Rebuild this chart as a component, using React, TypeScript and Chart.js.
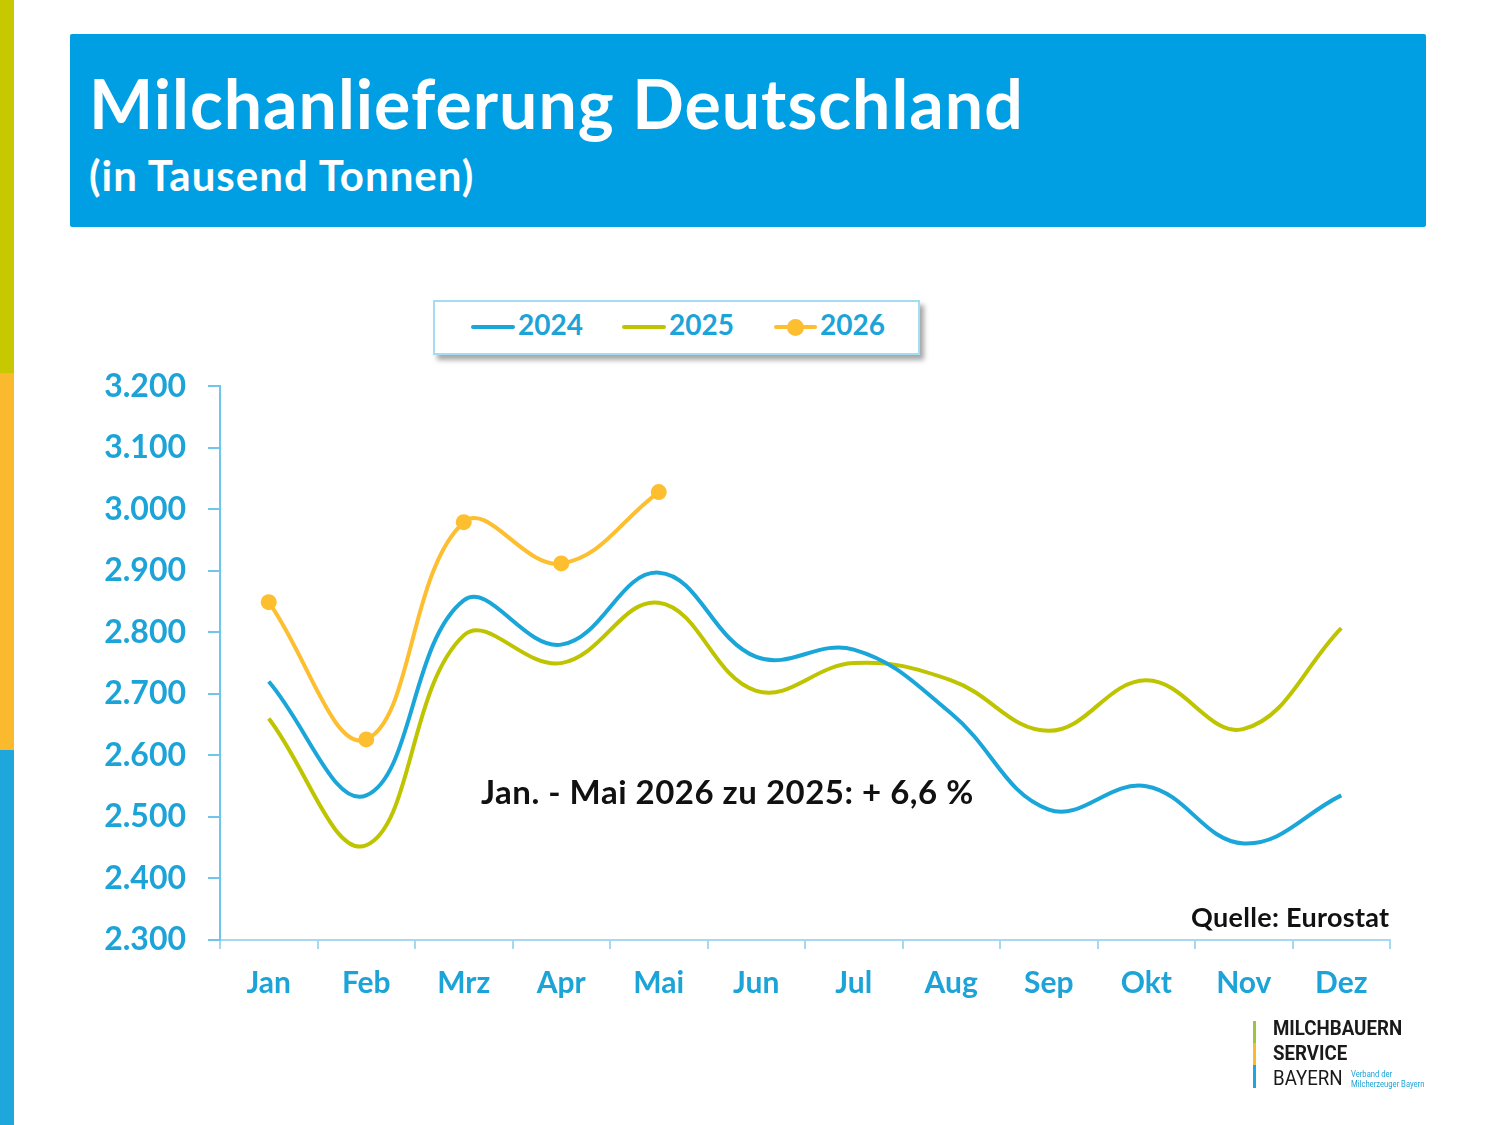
import React, { useEffect, useRef } from 'react';
import { Chart, registerables } from 'chart.js';

Chart.register(...registerables);

// ---- data ----
const months = ['Jan', 'Feb', 'Mrz', 'Apr', 'Mai', 'Jun', 'Jul', 'Aug', 'Sep', 'Okt', 'Nov', 'Dez'];
const series2024 = [2720, 2535, 2852, 2780, 2897, 2760, 2772, 2668, 2512, 2550, 2457, 2535];
const series2025 = [2660, 2454, 2795, 2750, 2848, 2705, 2750, 2722, 2640, 2722, 2643, 2807];
const series2026 = [2849, 2626, 2979, 2912, 3028];
const seriesNames = ['2024', '2025', '2026'];
const yMin = 2300;
const yMax = 3200;
const yStep = 100;

const TEXT_BLUE = '#1CA3D7';
const C2024 = '#1BA6DA';
const C2025 = '#BEC400';
const C2026 = '#FDBE30';
const FONT = 'Lato, "Open Sans", sans-serif';

function fmt(v: number): string {
  return String(Math.round(v)).replace(/\B(?=(\d{3})+(?!\d))/g, '.');
}

function T(props: { x: number; baseline: number; size: number; color: string; weight?: any; family?: string; children: any; style?: any }) {
  const { x, baseline, size, color, weight = 'bold', family = FONT, children, style } = props;
  return (
    <div
      style={{
        position: 'absolute',
        left: x,
        top: baseline - 0.987 * size,
        fontFamily: family,
        fontSize: size,
        lineHeight: 1.2,
        fontWeight: weight,
        color,
        whiteSpace: 'nowrap',
        ...style,
      }}
    >
      {children}
    </div>
  );
}

export default function App() {
  const ref = useRef<HTMLCanvasElement>(null);

  useEffect(() => {
    if (!ref.current) return;
    const chart = new Chart(ref.current, {
      type: 'line',
      data: {
        labels: months,
        datasets: [
          {
            label: seriesNames[0],
            data: series2024,
            borderColor: C2024,
            borderWidth: 4,
            pointRadius: 0,
            tension: 0.4,
            fill: false,
          },
          {
            label: seriesNames[1],
            data: series2025,
            borderColor: C2025,
            borderWidth: 4,
            pointRadius: 0,
            tension: 0.4,
            fill: false,
          },
          {
            label: seriesNames[2],
            data: series2026,
            borderColor: C2026,
            backgroundColor: C2026,
            pointBackgroundColor: C2026,
            pointBorderWidth: 0,
            borderWidth: 4,
            pointRadius: 8,
            tension: 0.4,
            fill: false,
          },
        ],
      },
      options: {
        animation: false,
        responsive: false,
        events: [],
        layout: { padding: { top: 10, right: 20, left: 0, bottom: 0 } },
        plugins: {
          legend: { display: false },
          tooltip: { enabled: false },
          title: { display: false },
        },
        scales: {
          x: {
            offset: true,
            grid: {
              offset: true,
              drawOnChartArea: false,
              drawTicks: true,
              tickLength: 9,
              color: '#A6D8F0',
              lineWidth: 2,
            },
            border: { color: '#A6D8F0', width: 2 },
            ticks: {
              color: TEXT_BLUE,
              font: { family: FONT, size: 30, weight: 'bold' },
              padding: 16,
              maxRotation: 0,
              autoSkip: false,
            },
            afterFit: (s: any) => {
              s.height = 80;
            },
          },
          y: {
            min: yMin,
            max: yMax,
            ticks: {
              stepSize: yStep,
              color: TEXT_BLUE,
              font: { family: FONT, size: 32, weight: 'bold' },
              padding: 22,
              callback: (v: any) => fmt(Number(v)),
            },
            grid: {
              drawOnChartArea: false,
              drawTicks: true,
              tickLength: 12,
              color: '#6FC6EA',
              lineWidth: 2,
            },
            border: { color: '#6FC6EA', width: 2 },
            afterFit: (s: any) => {
              s.width = 140;
            },
          },
        },
      },
    } as any);
    return () => chart.destroy();
  }, []);

  return (
    <div
      style={{
        position: 'absolute',
        left: 0,
        top: 0,
        width: 1500,
        height: 1125,
        overflow: 'hidden',
        background: '#ffffff',
      }}
    >
      {/* left stripes */}
      <div style={{ position: 'absolute', left: 0, top: 0, width: 14, height: 373, background: '#C8C800' }} />
      <div style={{ position: 'absolute', left: 0, top: 373, width: 14, height: 377, background: '#FBBA2D' }} />
      <div style={{ position: 'absolute', left: 0, top: 750, width: 14, height: 375, background: '#1EA7DB' }} />

      {/* header */}
      <div
        style={{
          position: 'absolute',
          left: 70,
          top: 34,
          width: 1356,
          height: 193,
          background: '#009FE3',
          borderRadius: 2,
        }}
      />
      <T x={89} baseline={129} size={68} color="#ffffff" style={{ letterSpacing: 1 }}>
        Milchanlieferung Deutschland
      </T>
      <T x={89} baseline={191} size={42} color="#ffffff" style={{ letterSpacing: 1 }}>
        (in Tausend Tonnen)
      </T>

      {/* legend box */}
      <div
        style={{
          position: 'absolute',
          left: 433,
          top: 300,
          width: 483,
          height: 51,
          border: '2px solid #A3DDF5',
          background: '#ffffff',
          boxShadow: '4px 5px 5px rgba(0,0,0,0.35)',
        }}
      />
      <div style={{ position: 'absolute', left: 471, top: 325, width: 44, height: 4, borderRadius: 2, background: C2024 }} />
      <T x={518} baseline={336} size={28} color={TEXT_BLUE}>
        {seriesNames[0]}
      </T>
      <div style={{ position: 'absolute', left: 622, top: 325, width: 44, height: 4, borderRadius: 2, background: C2025 }} />
      <T x={669} baseline={336} size={28} color={TEXT_BLUE}>
        {seriesNames[1]}
      </T>
      <div style={{ position: 'absolute', left: 774, top: 325, width: 43, height: 4, borderRadius: 2, background: C2026 }} />
      <div style={{ position: 'absolute', left: 787, top: 319, width: 17, height: 17, borderRadius: 9, background: C2026 }} />
      <T x={820} baseline={336} size={28} color={TEXT_BLUE}>
        {seriesNames[2]}
      </T>

      {/* chart */}
      <canvas
        ref={ref}
        width={1330}
        height={675}
        style={{ position: 'absolute', left: 80, top: 345, width: 1330, height: 675 }}
      />

      {/* annotations */}
      <T x={481} baseline={805} size={33} color="#111111" style={{ letterSpacing: 0.5 }}>
        Jan. - Mai 2026 zu 2025: + 6,6 %
      </T>
      <T x={1191} baseline={928} size={27} color="#111111" style={{ letterSpacing: 0.3 }}>
        Quelle: Eurostat
      </T>

      {/* logo */}
      <div style={{ position: 'absolute', left: 1253, top: 1021, width: 3, height: 22, background: '#9DC43A' }} />
      <div style={{ position: 'absolute', left: 1253, top: 1043, width: 3, height: 22, background: '#FBBA2D' }} />
      <div style={{ position: 'absolute', left: 1253, top: 1065, width: 3, height: 23, background: '#1EA7DB' }} />
      <T
        x={1273}
        baseline={1037}
        size={21}
        color="#1a1a1a"
        weight={700}
        family="Roboto, sans-serif"
        style={{ transform: 'scaleX(0.89)', transformOrigin: 'left' }}
      >
        MILCHBAUERN
      </T>
      <T
        x={1273}
        baseline={1062}
        size={21}
        color="#1a1a1a"
        weight={700}
        family="Roboto, sans-serif"
        style={{ transform: 'scaleX(0.89)', transformOrigin: 'left' }}
      >
        SERVICE
      </T>
      <T
        x={1273}
        baseline={1087}
        size={21}
        color="#1a1a1a"
        weight={400}
        family="Roboto, sans-serif"
        style={{ transform: 'scaleX(0.89)', transformOrigin: 'left' }}
      >
        BAYERN
      </T>
      <T
        x={1351}
        baseline={1078}
        size={9}
        color={TEXT_BLUE}
        weight={400}
        family="Roboto, sans-serif"
        style={{ transform: 'scaleX(0.85)', transformOrigin: 'left' }}
      >
        Verband der
      </T>
      <T
        x={1351}
        baseline={1088}
        size={9}
        color={TEXT_BLUE}
        weight={400}
        family="Roboto, sans-serif"
        style={{ transform: 'scaleX(0.85)', transformOrigin: 'left' }}
      >
        Milcherzeuger Bayern
      </T>
    </div>
  );
}
